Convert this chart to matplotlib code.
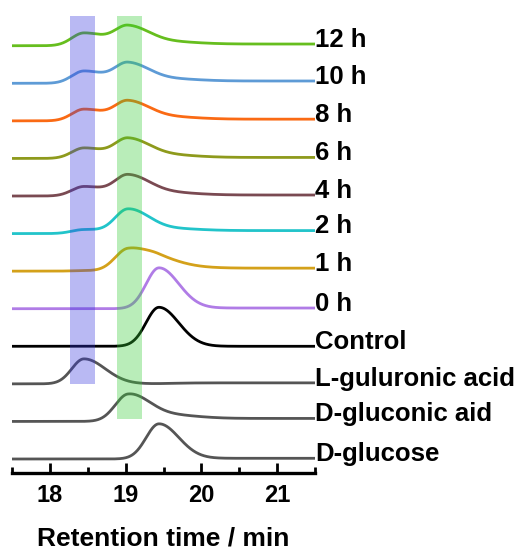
import matplotlib
matplotlib.use("Agg")
import matplotlib.pyplot as plt
import matplotlib.transforms as mtransforms
import numpy as np
from matplotlib.ticker import MultipleLocator

plt.rcParams["font.family"] = ["Liberation Sans", "DejaVu Sans"]
plt.rcParams["font.weight"] = "bold"

# traces from top to bottom
labels = ["12 h", "10 h", "8 h", "6 h", "4 h", "2 h", "1 h", "0 h",
          "Control", "L-guluronic acid", "D-gluconic aid", "D-glucose"]
colors = ["#66BE1E", "#5E9BD6", "#FA6A14", "#8E9A1C", "#7A4A52", "#22C4CA",
          "#D4A11A", "#B07CE6", "#000000", "#555555", "#555555", "#555555"]

# peak heights of the components in each trace
gul_height = [12.8, 12.3, 11.7, 10.5, 9.5, 4.0, 0.5, 0, 0, 25.0, 0, 0]
gcn_height = [17.9, 18.5, 18.0, 18.2, 19.3, 23.0, 21.0, 0, 0, 0, 25.5, 0]
glc_height = [0, 0, 0, 0, 0, 0, 6.0, 40.7, 39.0, 0, 0, 35.0]
tail_height = [3.3, 3.3, 3.3, 3.3, 3.3, 3.3, 4.0, 0, 0, 0, 5.0, 0]
drift = [1.7, 2.3, 1.7, 1.0, 1.0, 3.0, 3.0, 0.7, 0.0, 1.0, 3.0, 0.7]

# retention time, left width, right width of each component (min)
gul_peak = (18.45, 0.16, 0.28)
gcn_peak = (19.03, 0.17, 0.27)
glc_peak = (19.44, 0.17, 0.26)
tail_peak = (19.45, 0.30, 0.40)

# highlighted retention windows
band_x = [(18.27, 18.59), (18.885, 19.21)]
band_bottom = [75.0, 40.5]
band_top = 443.0
band_colors = ["#3333DD", "#33CC33"]

spacing = 37.57


def peak(t, center, wl, wr):
    w = np.where(t < center, wl, wr)
    return np.exp(-((t - center) ** 2) / (2 * w ** 2))


t = np.linspace(17.5, 21.5, 800)
step = 1.0 / (1.0 + np.exp(-(t - 19.6) / 0.15))

fig = plt.figure(figsize=(5.22, 5.51), dpi=100)
ax = fig.add_axes([12 / 522, 1 - 473 / 551, 303 / 522, 473 / 551])
text_shift = mtransforms.offset_copy(ax.transData, fig=fig, x=0, y=3, units="points")

n = len(labels)
for i, lab in enumerate(labels):
    base = (n - 1 - i) * spacing
    y = (base + gul_height[i] * peak(t, *gul_peak)
         + gcn_height[i] * peak(t, *gcn_peak)
         + glc_height[i] * peak(t, *glc_peak)
         + tail_height[i] * peak(t, *tail_peak)
         + drift[i] * step)
    ax.plot(t, y, color=colors[i], lw=2, solid_capstyle="butt", zorder=2)
    ax.text(21.5, y[-1], lab, fontsize=18.5, fontweight="bold",
            va="center", ha="left", clip_on=False, transform=text_shift)

for (x0, x1), yb, c in zip(band_x, band_bottom, band_colors):
    ax.fill_betweenx([yb, band_top], x0, x1, color=c, alpha=0.34, lw=0, zorder=3)

ax.set_xlim(17.5, 21.5)
ax.set_ylim(-14, 459)
for s in ["left", "right", "top"]:
    ax.spines[s].set_visible(False)
ax.spines["bottom"].set_linewidth(2.4)
ax.set_yticks([])
ax.xaxis.set_major_locator(MultipleLocator(1))
ax.xaxis.set_minor_locator(MultipleLocator(0.5))
ax.tick_params(axis="x", which="major", direction="in", length=7, width=2,
               labelsize=17, pad=8)
ax.tick_params(axis="x", which="minor", direction="in", length=4, width=2)
for lbl in ax.get_xticklabels():
    lbl.set_fontweight("bold")
ax.set_xlabel("Retention time / min", fontsize=19, fontweight="bold", labelpad=14)

fig.savefig("out.png", dpi=100)
